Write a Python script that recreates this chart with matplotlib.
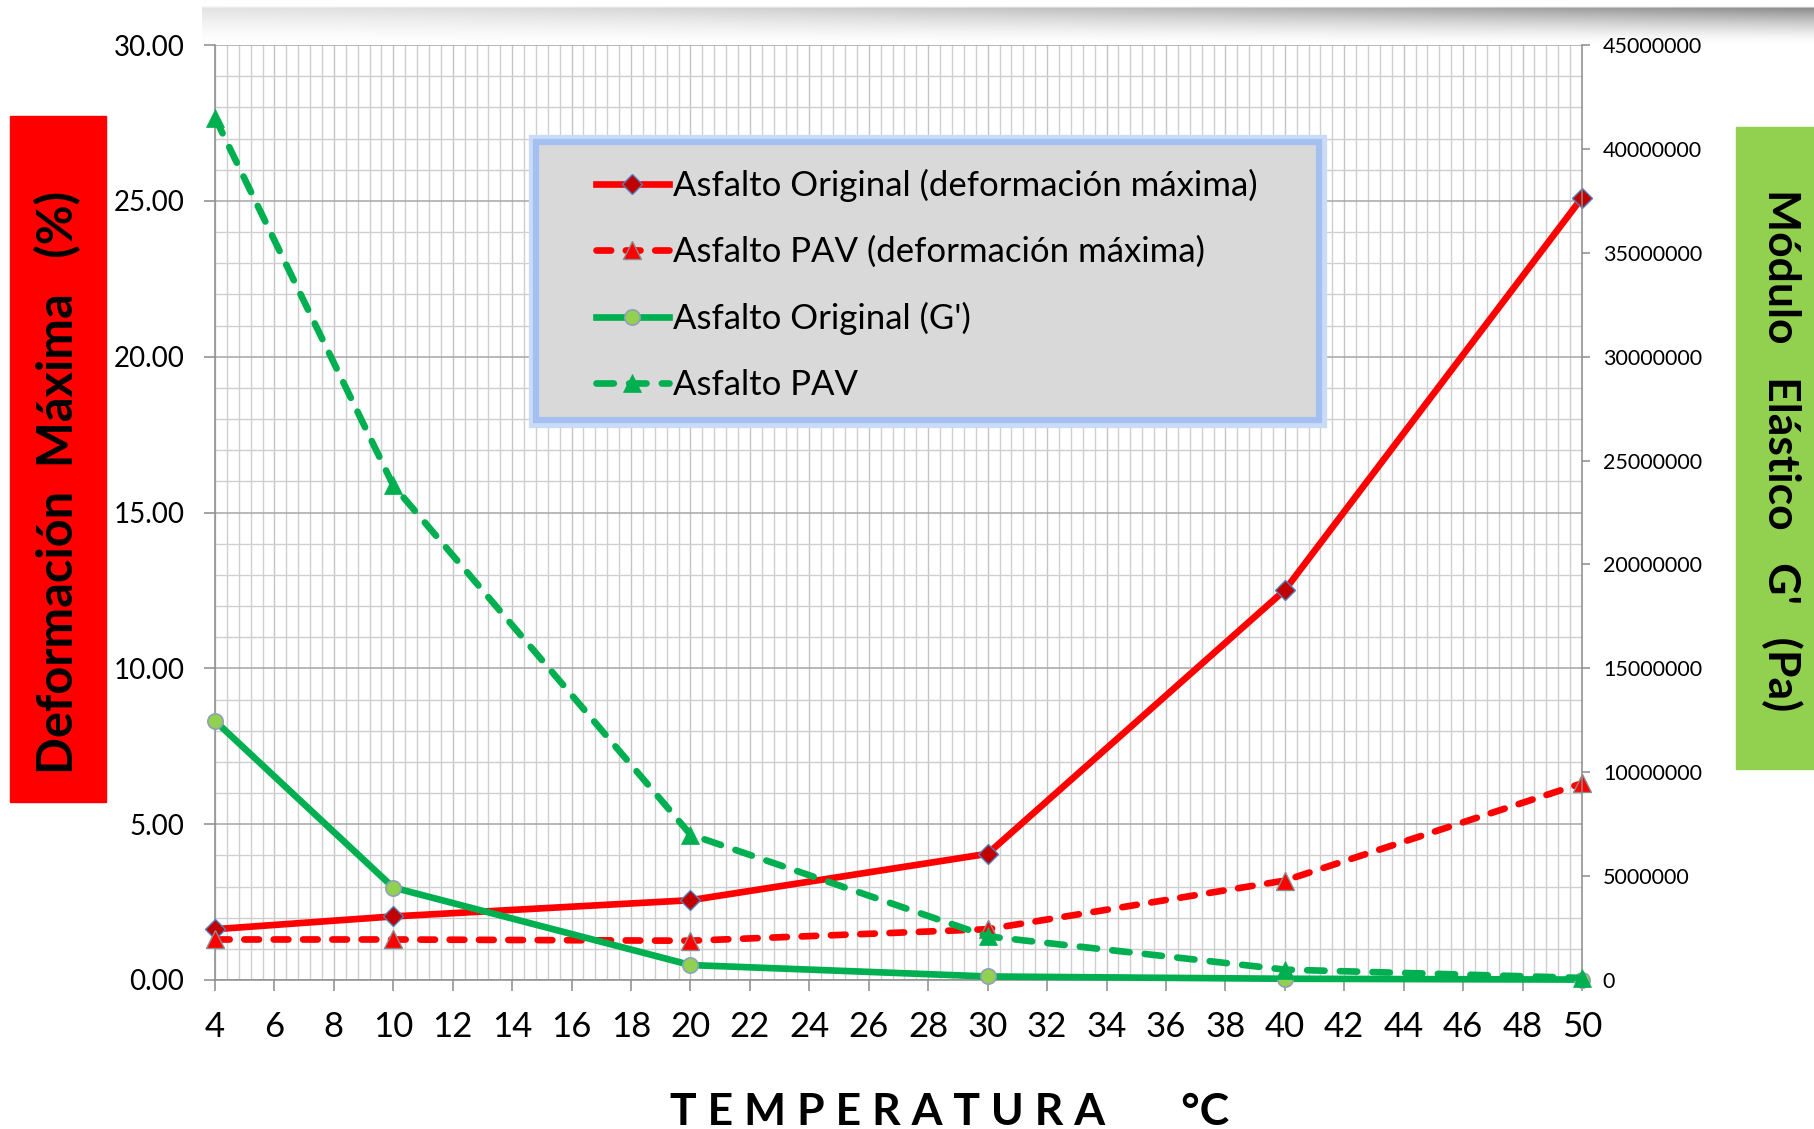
import numpy as np
import matplotlib
matplotlib.use('Agg')
import matplotlib.pyplot as plt
from matplotlib.patches import Rectangle
from matplotlib.ticker import MultipleLocator, FixedLocator

# values
temperatura = [4, 10, 20, 30, 40, 50]
def_original = [1.63, 2.04, 2.56, 4.05, 12.51, 25.10]
def_pav = [1.30, 1.30, 1.26, 1.63, 3.19, 6.31]
g_original = [12.47e6, 4.45e6, 0.72e6, 0.17e6, 0.06e6, 0.02e6]
g_pav = [41.5e6, 23.8e6, 7.0e6, 2.1e6, 0.5e6, 0.1e6]

labels = ['Asfalto Original (deformación máxima)',
          'Asfalto PAV (deformación máxima)',
          "Asfalto Original (G')",
          'Asfalto PAV']

xticks = list(range(4, 51, 2))
left_ticks = [0, 5, 10, 15, 20, 25, 30]
right_ticks = list(range(0, 45000001, 5000000))

RED = '#ff0000'
GREEN = '#00b050'
FONT = ['Lato', 'DejaVu Sans']


def main():
    fig = plt.figure(figsize=[18.14, 11.29], dpi=100)

    # grey shadow band on top
    band = fig.add_axes([202 / 1814, 1 - 50 / 1129, 1 - 202 / 1814, 44 / 1129])
    yy = np.linspace(0, 1, 60)[:, None]
    xx = np.linspace(0, 1, 400)[None, :]
    dark = (0.12 + 0.36 * xx ** 1.5) * np.clip(1 - yy / 0.85, 0, 1) ** 1.4
    dark[:2, :] = 0.03
    img = np.dstack([1 - dark] * 3)
    band.imshow(img, aspect='auto', interpolation='bilinear')
    band.axis('off')

    ax = fig.add_axes([215 / 1814, 1 - 980 / 1129, 1367 / 1814, 935 / 1129])
    ax2 = ax.twinx()

    ax.set_xlim(4, 50)
    ax.set_ylim(0, 30)
    ax2.set_ylim(0, 45000000)

    ax.xaxis.set_major_locator(FixedLocator(xticks))
    ax.xaxis.set_minor_locator(MultipleLocator(0.4))
    ax.yaxis.set_major_locator(FixedLocator(left_ticks))
    ax.yaxis.set_minor_locator(MultipleLocator(1))
    ax2.yaxis.set_major_locator(FixedLocator(right_ticks))

    ax.grid(which='minor', axis='both', color='#cfcfcf', lw=1.0)
    ax.grid(which='major', axis='x', color='#c4c4c4', lw=1.0)
    ax.grid(which='major', axis='y', color='#a6a6a6', lw=1.1)
    ax.set_axisbelow(True)

    for a in (ax, ax2):
        for s in a.spines.values():
            s.set_visible(False)
    ax.spines['left'].set_visible(True)
    ax.spines['bottom'].set_visible(True)
    ax2.spines['right'].set_visible(True)
    for s in (ax.spines['left'], ax.spines['bottom'], ax2.spines['right']):
        s.set_color('#8c8c8c')
        s.set_linewidth(1.1)

    ax.tick_params(axis='x', which='major', direction='out', length=8, width=1.1,
                   color='#8c8c8c', pad=14, labelsize=25)
    ax.tick_params(axis='y', which='major', direction='out', length=8, width=1.1,
                   color='#8c8c8c', pad=14, labelsize=20)
    ax.tick_params(which='minor', length=0)
    ax2.tick_params(axis='y', direction='out', length=6, width=1.1,
                    color='#8c8c8c', pad=9, labelsize=15.5)
    ax.set_yticklabels(['%.2f' % v for v in left_ticks], family=FONT)
    ax.set_xticklabels([str(v) for v in xticks], family=FONT)
    ax2.set_yticklabels([str(v) for v in right_ticks], family=FONT)

    lw = 4.8
    l1, = ax.plot(temperatura, def_original, color=RED, lw=lw, marker='D', ms=10,
                  mfc='#c00000', mec='#4f81bd', mew=1.0, solid_joinstyle='round', zorder=3)
    l2, = ax.plot(temperatura, def_pav, color=RED, lw=lw, marker='^', ms=13,
                  mfc=RED, mec='#8c8c8c', mew=1.0, dashes=(2.2, 2.2),
                  dash_capstyle='round', zorder=3)
    l3, = ax2.plot(temperatura, g_original, color=GREEN, lw=lw, marker='o', ms=11,
                   mfc='#92d050', mec='#8ea0b8', mew=1.2, solid_joinstyle='round', zorder=3)
    l4, = ax2.plot(temperatura, g_pav, color=GREEN, lw=lw, marker='^', ms=13,
                   mfc=GREEN, mec=GREEN, mew=0.5, dashes=(2.6, 2.3),
                   dash_capstyle='round', zorder=3)
    for l in (l1, l2, l3, l4):
        l.set_clip_on(False)

    # legend box drawn separately so the entries can sit inset from its edge
    ax2.add_patch(Rectangle((0.2348, 0.599), 0.5728, 0.2973, transform=ax2.transAxes,
                            facecolor='none', edgecolor='#c9dbf7', lw=11, zorder=8,
                            clip_on=False))
    ax2.add_patch(Rectangle((0.2348, 0.599), 0.5728, 0.2973, transform=ax2.transAxes,
                            facecolor='#d9d9d9', edgecolor='#a3c0f0', lw=4.5, zorder=9,
                            clip_on=False))
    leg = ax2.legend([l1, l2, l3, l4], labels, loc='upper left',
                     bbox_to_anchor=(0.2787, 0.8676),
                     prop={'family': FONT, 'size': 25}, numpoints=1,
                     handlelength=2.1, handletextpad=0.13, labelspacing=0.98,
                     borderpad=0, borderaxespad=0, frameon=False)
    leg.set_zorder(10)
    for t in leg.get_texts():
        t.set_color('black')

    # coloured axis title boxes
    fig.patches.append(Rectangle((10 / 1814, 1 - 802 / 1129), 96 / 1814, 686 / 1129,
                                 transform=fig.transFigure, color='#ff0000', zorder=0))
    fig.text(58 / 1814, 1 - 483 / 1129, 'Deformación  Máxima   (%)', rotation=90,
             ha='center', va='center', fontsize=35, fontweight='bold', family=FONT)
    fig.patches.append(Rectangle((1736 / 1814, 1 - 769 / 1129), 78 / 1814, 642 / 1129,
                                 transform=fig.transFigure, color='#92d050', zorder=0))
    fig.text(1782 / 1814, 1 - 450 / 1129, "Módulo   Elástico   G'   (Pa)", rotation=-90,
             ha='center', va='center', fontsize=32, fontweight='bold', family=FONT)

    fig.text(950 / 1814, 1 - 1125 / 1129, 'T E M P E R A T U R A       °C',
             ha='center', va='baseline', fontsize=32, fontweight='bold', family=FONT)

    fig.savefig('out.png', dpi=100)


if __name__ == "__main__":
    main()
